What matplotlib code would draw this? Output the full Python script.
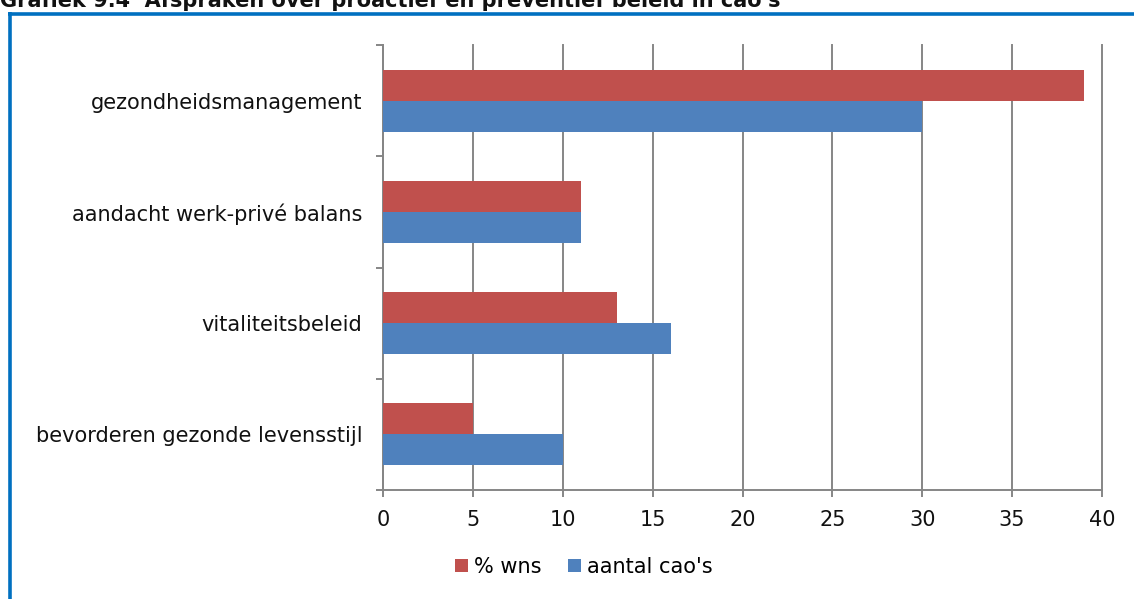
import matplotlib
matplotlib.use("Agg")
import matplotlib.pyplot as plt
from matplotlib.lines import Line2D
from matplotlib.patches import Patch
import numpy as np

categories = ["gezondheidsmanagement", "aandacht werk-privé balans",
              "vitaliteitsbeleid", "bevorderen gezonde levensstijl"]
pct_wns = [39, 11, 13, 5]
aantal_caos = [30, 11, 16, 10]
series_names = ["% wns", "aantal cao's"]
xticks = [0, 5, 10, 15, 20, 25, 30, 35, 40]
title = "Grafiek 9.4  Afspraken over proactief en preventief beleid in cao's"

RED = "#C0504D"
BLUE = "#4F81BD"
GRAY = "#868686"
FS = 15

plt.rcParams['font.family'] = ['DejaVu Sans']
W, H = 1134, 599
fig = plt.figure(figsize=(W / 100, H / 100), dpi=100)
ax = fig.add_axes([383 / W, 1 - 490 / H, (1102 - 383) / W, (490 - 45) / H])

n = len(categories)
ypos = np.arange(n)[::-1]
h = 0.279
ax.barh(ypos + h / 2, pct_wns, height=h, color=RED, zorder=3, label=series_names[0])
ax.barh(ypos - h / 2, aantal_caos, height=h, color=BLUE, zorder=3, label=series_names[1])

ax.set_xlim(0, 40)
ax.set_ylim(-0.5, n - 0.5)
ax.set_xticks(xticks)
ax.set_xticklabels([str(t) for t in xticks])
ax.set_yticks(ypos)
ax.set_yticklabels(categories)
ax.set_yticks(np.arange(n + 1) - 0.5, minor=True)
ax.tick_params(axis='y', which='major', length=0, pad=15, labelsize=FS, labelcolor='#111111')
ax.tick_params(axis='y', which='minor', length=5, width=1.4, color=GRAY, direction='out')
ax.tick_params(axis='x', which='major', length=5, width=1.4, color=GRAY, pad=9.5, labelsize=FS, labelcolor='#111111')

ax.grid(axis='x', color=GRAY, linewidth=1.4, zorder=0)
for gl in ax.get_xgridlines():
    gl.set_clip_on(False)
for s in ['top', 'right']:
    ax.spines[s].set_visible(False)
for s in ['left', 'bottom']:
    ax.spines[s].set_color(GRAY)
    ax.spines[s].set_linewidth(1.4)

handles = [Patch(facecolor=RED), Patch(facecolor=BLUE)]
fig.legend(handles, series_names, loc='center', bbox_to_anchor=(584 / W, 1 - 567 / H),
           ncol=2, frameon=False, fontsize=FS, handlelength=0.6, handleheight=0.6,
           handletextpad=0.3, columnspacing=1.3)

# blue frame
fig.add_artist(Line2D([8 / W, 1], [1 - 13.5 / H, 1 - 13.5 / H], transform=fig.transFigure,
                      color="#0070C0", linewidth=2.6, solid_capstyle='butt'))
fig.add_artist(Line2D([9.5 / W, 9.5 / W], [1 - 12 / H, 0], transform=fig.transFigure,
                      color="#0070C0", linewidth=2.6, solid_capstyle='butt'))

fig.text(0 / W, 1 - 7 / H, title, fontsize=15, fontweight='bold', va='baseline', ha='left',
         color='#111111')

fig.savefig("out.png", dpi=100)
